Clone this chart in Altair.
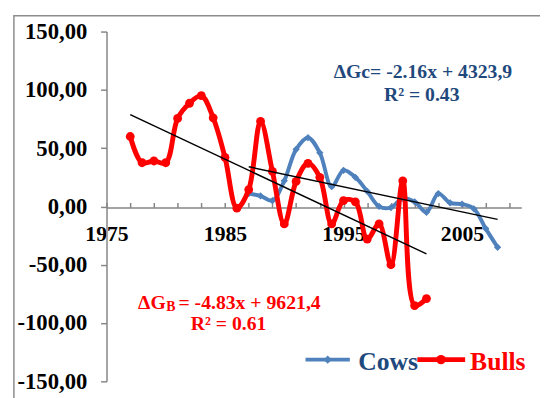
import altair as alt
import pandas as pd

# ---- data ----
bull_years = [1977, 1978, 1979, 1980, 1981, 1982, 1983, 1984, 1985, 1986, 1987, 1988, 1989,
              1990, 1991, 1992, 1993, 1994, 1995, 1996, 1997, 1998, 1999, 2000, 2001, 2002]
bull_values = [60, 37.5, 39, 37.5, 75.5, 88.5, 95, 76, 42, -1.5, 14.5, 73, 30,
               -15, 21.5, 37, 25, -15, 5, 4, -28, -15, -50, 22, -85, -79]
cow_years = [1987, 1988, 1989, 1990, 1991, 1992, 1993, 1994, 1995, 1996, 1997,
             1998, 1999, 2000, 2001, 2002, 2003, 2004, 2005, 2006, 2007, 2008]
cow_values = [11, 9, 5, 22, 49, 59, 46, 17, 31, 25, 13,
              0, -1, 7, 4, -5, 11, 3, 2, -2, -19, -35]
x_ticks = [1975, 1977, 1979, 1981, 1983, 1985, 1987, 1989, 1991, 1993, 1995, 1997,
           1999, 2001, 2003, 2005, 2007, 2009]
y_ticks = [-150, -100, -50, 0, 50, 100, 150]
series_names = ["Cows", "Bulls"]

W, H = 421, 355
FONT = "Liberation Serif"
BLUE = "#4F81BD"
DBLUE = "#1F497D"
RED = "#FF0000"
GRAY = "#868686"

cows = pd.DataFrame({"year": cow_years, "value": cow_values})
bulls = pd.DataFrame({"year": bull_years, "value": bull_values})

xscale = alt.Scale(domain=[1975, 2010], nice=False, zero=False)
yscale = alt.Scale(domain=[-150, 150], nice=False)

x_bottom = alt.Axis(orient="bottom", offset=-176.5, values=x_ticks, format="d",
                    labelExpr="(datum.value - 1975) % 10 == 0 ? datum.label : ''",
                    ticks=False, domain=True, domainColor=GRAY, domainWidth=1.5,
                    labelFont=FONT, labelFontSize=22, labelFontWeight="bold",
                    labelColor="black", labelPadding=17, labelOverlap=False,
                    labelFlush=False, grid=False, title=None)
x_top = alt.Axis(orient="top", offset=-178.5, values=x_ticks, labels=False,
                 domain=False, ticks=True, tickSize=5, tickColor=GRAY, tickWidth=1.5,
                 grid=False, title=None)
y_axis = alt.Axis(values=y_ticks,
                  labelExpr="replace(replace(format(datum.value, '.2f'), '.', ','), '\u2212', '-')",
                  domainColor=GRAY, domainWidth=1.5, tickColor=GRAY, tickWidth=1.5, tickSize=6,
                  labelFont=FONT, labelFontSize=23, labelFontWeight="bold", labelColor="black",
                  labelPadding=14, labelFlush=False, grid=False, title=None)

cow_line = alt.Chart(cows).mark_line(
    color=BLUE, strokeWidth=4, interpolate="catmull-rom",
    point=alt.OverlayMarkDef(shape="diamond", size=55, filled=True, color=BLUE)
).encode(x=alt.X("year:Q", scale=xscale, axis=x_bottom),
         y=alt.Y("value:Q", scale=yscale, axis=y_axis))

bull_line = alt.Chart(bulls).mark_line(
    color=RED, strokeWidth=5, interpolate="catmull-rom",
    point=alt.OverlayMarkDef(shape="circle", size=80, filled=True, color=RED)
).encode(x=alt.X("year:Q", scale=xscale, axis=x_top),
         y=alt.Y("value:Q", scale=yscale, axis=y_axis))

cow_trend = alt.Chart(cows).transform_regression("year", "value").mark_line(
    color="black", strokeWidth=1.5
).encode(x=alt.X("year:Q", scale=xscale, axis=None),
         y=alt.Y("value:Q", scale=yscale, axis=y_axis))

bull_trend = alt.Chart(bulls).transform_regression("year", "value").mark_line(
    color="black", strokeWidth=1.5
).encode(x=alt.X("year:Q", scale=xscale, axis=None),
         y=alt.Y("value:Q", scale=yscale, axis=y_axis))

# ---- equation annotations (placed in data coordinates) ----
ann_center = pd.DataFrame({
    "text": ["\u0394Gc= -2.16x + 4323,9", "R\u00b2 = 0.43", "R\u00b2 = 0.61"],
    "year": [2001.7, 2001.6, 1985.3],
    "value": [110.0, 90.8, -106.3],
    "color": [DBLUE, DBLUE, RED],
})
ann_left = pd.DataFrame({
    "text": ["\u0394G", "B", "= -4.83x + 9621,4"],
    "year": [1977.66, 1980.05, 1981.07],
    "value": [-88.1, -90.0, -88.1],
    "size": [20, 14, 20],
})

t_center = alt.Chart(ann_center).mark_text(
    font=FONT, fontWeight="bold", fontSize=20, align="center", baseline="alphabetic"
).encode(x=alt.X("year:Q", scale=xscale, axis=None),
         y=alt.Y("value:Q", scale=yscale, axis=y_axis),
         text="text:N", color=alt.Color("color:N", scale=None))

t_left = alt.Chart(ann_left).mark_text(
    font=FONT, fontWeight="bold", align="left", baseline="alphabetic", color=RED
).encode(x=alt.X("year:Q", scale=xscale, axis=None),
         y=alt.Y("value:Q", scale=yscale, axis=y_axis),
         text="text:N", size=alt.Size("size:Q", scale=None))

# ---- legend (drawn) ----
base_leg = alt.Chart(pd.DataFrame({"name": series_names}))
leg_cow_rule = base_leg.transform_filter("datum.name == 'Cows'").mark_rule(
    color=BLUE, strokeWidth=4).encode(x=alt.value(202), x2=alt.value(247), y=alt.value(333))
leg_cow_pt = base_leg.transform_filter("datum.name == 'Cows'").mark_point(
    shape="diamond", filled=True, size=70, color=BLUE, opacity=1).encode(
    x=alt.value(224.5), y=alt.value(333))
leg_cow_txt = base_leg.transform_filter("datum.name == 'Cows'").mark_text(
    font=FONT, fontWeight="bold", fontSize=26, color=DBLUE, align="left",
    baseline="alphabetic").encode(x=alt.value(255.5), y=alt.value(344), text="name:N")
leg_bull_rule = base_leg.transform_filter("datum.name == 'Bulls'").mark_rule(
    color=RED, strokeWidth=5).encode(x=alt.value(315.5), x2=alt.value(364), y=alt.value(333))
leg_bull_pt = base_leg.transform_filter("datum.name == 'Bulls'").mark_point(
    shape="circle", filled=True, size=90, color=RED, opacity=1).encode(
    x=alt.value(339.5), y=alt.value(333))
leg_bull_txt = base_leg.transform_filter("datum.name == 'Bulls'").mark_text(
    font=FONT, fontWeight="bold", fontSize=26, color=RED, align="left",
    baseline="alphabetic").encode(x=alt.value(369), y=alt.value(344), text="name:N")

# ---- outer chart frame ----
frame = base_leg.transform_filter("datum.name == 'Cows'").mark_rect(
    fillOpacity=0, stroke="#8c8c8c", strokeWidth=1.5).encode(
    x=alt.value(-94), y=alt.value(-16), x2=alt.value(W + 120), y2=alt.value(H + 120))

chart = alt.layer(
    frame, cow_line, bull_line, cow_trend, bull_trend, t_center, t_left,
    leg_cow_rule, leg_cow_pt, leg_cow_txt, leg_bull_rule, leg_bull_pt, leg_bull_txt
).resolve_scale(x="shared", y="shared").resolve_axis(x="independent").properties(
    width=W, height=H,
    autosize=alt.AutoSizeParams(type="none"),
    padding={"left": 100, "top": 21, "right": 19, "bottom": 14},
).configure_view(stroke=None)

chart.save("out.html", embed_options={"renderer": "svg", "actions": False})
